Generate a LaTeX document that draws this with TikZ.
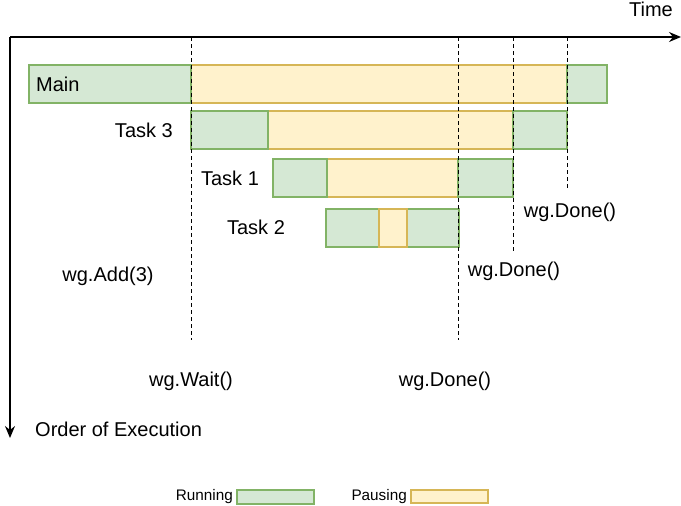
\documentclass[tikz,border=0pt]{standalone}
\usepackage{fontspec}
\setmainfont{Liberation Sans}
\usetikzlibrary{arrows.meta}
\definecolor{gfill}{HTML}{D5E8D4}
\definecolor{gline}{HTML}{82B366}
\definecolor{yfill}{HTML}{FFF2CC}
\definecolor{yline}{HTML}{D6B656}
\tikzset{
  run/.style={fill=gfill,draw=gline,line width=1.2pt},
  pause/.style={fill=yfill,draw=yline,line width=1.2pt},
  axis/.style={line width=1.4pt,-{Stealth[length=12pt,width=10pt,inset=4pt]}},
  guide/.style={dash pattern=on 3.5pt off 3.5pt,line width=1pt},
  lbl/.style={font=\fontsize{20}{24}\selectfont,inner sep=0pt},
  leg/.style={font=\fontsize{15.3}{18}\selectfont,inner sep=0pt}
}
\begin{document}
\begin{tikzpicture}[x=1pt,y=-1pt]
\useasboundingbox (0,0) rectangle (681,506);
% dashed guides
\coordinate (g1t) at (191,37); \coordinate (g1b) at (191,340);
\coordinate (g2t) at (458,37); \coordinate (g2b) at (458,340);
\coordinate (g3t) at (513,37); \coordinate (g3b) at (513,253);
\coordinate (g4t) at (567,37); \coordinate (g4b) at (567,191);
% Main
\draw[pause] (191,65) rectangle (567,103);
\draw[run] (29,65) rectangle (191,103);
\draw[run] (567,65) rectangle (607,103);
% Task 3
\draw[pause] (268,111) rectangle (513,149);
\draw[run] (191,111) rectangle (268,149);
\draw[run] (513,111) rectangle (567,149);
% Task 1
\draw[pause] (327,159) rectangle (458,197);
\draw[run] (273,159) rectangle (327,197);
\draw[run] (458,159) rectangle (513,197);
% Task 2
\draw[run] (326,209) rectangle (379,247);
\draw[run] (407,209) rectangle (459,247);
\draw[pause] (379,209) rectangle (407,247);
% guides on top
\draw[guide] (g1t) -- (g1b);
\draw[guide] (g2t) -- (g2b);
\draw[guide] (g3t) -- (g3b);
\draw[guide] (g4t) -- (g4b);
% axes
\coordinate (o) at (10,37);
\coordinate (tend) at (681,37);
\coordinate (vend) at (10,438);
\draw[axis] (o) -- (tend);
\draw[axis] (o) -- (vend);
% labels
\node[lbl] (time) at (651,9) {Time};
\node[lbl,anchor=west] (main) at (36,84) {Main};
\node[lbl,anchor=east] (t3) at (173,130) {Task 3};
\node[lbl] (t1) at (230,178) {Task 1};
\node[lbl] (t2) at (256,227) {Task 2};
\node[lbl] (d3) at (570,212) {wg.Done()};
\node[lbl] (d2) at (514,271) {wg.Done()};
\node[lbl] (add) at (108,276) {wg.Add(3)};
\node[lbl] (wait) at (191,381) {wg.Wait()};
\node[lbl] (d1) at (445,381) {wg.Done()};
\node[lbl,anchor=west] (order) at (35,429) {Order of Execution};
% legend
\node[leg,anchor=east] (lrun) at (233,497) {Running};
\draw[run] (237,490) rectangle (314,504);
\node[leg,anchor=east] (lpause) at (407,497) {Pausing};
\draw[pause] (411,490) rectangle (488,503);
\end{tikzpicture}
\end{document}
